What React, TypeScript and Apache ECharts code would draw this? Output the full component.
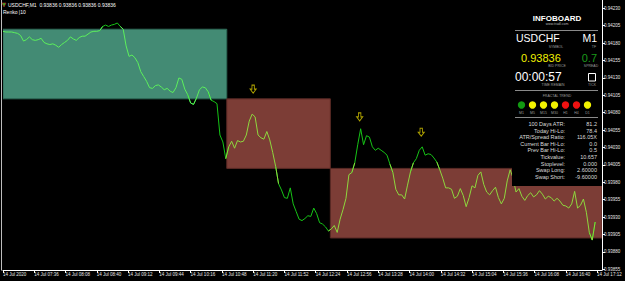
import React, { useEffect, useRef } from 'react';
import * as echarts from 'echarts';

// ---- data ----
const DAY_LABEL = '14 Jul';
const FIRST_LABEL = '14 Jul 2020';
const START_MIN = 7 * 60 + 4; // 07:04
const STEP_MIN = 3; // minutes between samples

const prices = [
  0.94197, 0.94196, 0.94196, 0.94196, 0.94195, 0.94194, 0.94191, 0.94183, 0.94185, 0.94189,
  0.94185, 0.94184, 0.94185, 0.94187, 0.94181, 0.94179, 0.94178, 0.94179, 0.94177, 0.94174,
  0.94178, 0.94181, 0.94184, 0.94189, 0.94186, 0.94184, 0.94188, 0.9419, 0.9419, 0.94193,
  0.94196, 0.94197, 0.94197, 0.94198, 0.94204, 0.94206, 0.94204, 0.94206, 0.94207, 0.94209,
  0.94204, 0.942, 0.94176, 0.94161, 0.94163, 0.94159, 0.94152, 0.94139, 0.94132, 0.94125,
  0.94116, 0.94115, 0.94119, 0.9412, 0.94117, 0.94113, 0.94115, 0.94111, 0.94109, 0.94116,
  0.9413, 0.94128, 0.94114, 0.94106, 0.94094, 0.94092, 0.94101, 0.94113, 0.94117, 0.94116,
  0.9411, 0.94098, 0.94096, 0.94093, 0.94048, 0.94038, 0.94014, 0.94031, 0.94039, 0.94029,
  0.9404, 0.94038, 0.94039, 0.94048, 0.94068, 0.94078, 0.94074, 0.94048, 0.94044, 0.94042,
  0.94053, 0.94041, 0.94023, 0.94003, 0.93978, 0.93969, 0.93958, 0.93957, 0.93972, 0.93949,
  0.93938, 0.93927, 0.93925, 0.93928, 0.93932, 0.93931, 0.93943, 0.93935, 0.93922, 0.9392,
  0.93916, 0.9391, 0.93913, 0.93918, 0.93908, 0.93927, 0.93941, 0.93957, 0.93991, 0.93994,
  0.94008, 0.94034, 0.94057, 0.94034, 0.94047, 0.94045, 0.94031, 0.94026, 0.94029, 0.94026,
  0.94023, 0.94019, 0.94006, 0.93994, 0.9397, 0.93962, 0.93962, 0.93956, 0.93976, 0.93995,
  0.94008, 0.94014, 0.94026, 0.94031, 0.94019, 0.94021, 0.9402, 0.94015, 0.94009, 0.93998,
  0.93986, 0.93972, 0.93972, 0.9397, 0.93957, 0.9396, 0.93971, 0.93961, 0.93945, 0.93958,
  0.93975, 0.93972, 0.9399, 0.93995, 0.93977, 0.93966, 0.93962, 0.93968, 0.93973, 0.93958,
  0.93949, 0.93957, 0.93982, 0.93998, 0.93986, 0.93966, 0.93971, 0.9396, 0.93954, 0.93961,
  0.93965, 0.93959, 0.93962, 0.93968, 0.93963, 0.93956, 0.9396, 0.93958, 0.93953, 0.93957,
  0.93953, 0.93947, 0.93946, 0.93943, 0.93949, 0.93967, 0.93943, 0.93947, 0.93956, 0.93937,
  0.93908, 0.93897, 0.93923,
];

// renko boxes (minutes from start)
const boxStart = [0, 229, 335];
const boxEnd = [229, 335, 613];
const boxLow = [0.941, 0.94, 0.939];
const boxHigh = [0.942, 0.941, 0.94];
const boxDir = ['up', 'down', 'down'];

// up-fractal arrows
const fractalTimes = [256, 365, 428];
const fractalPrices = [0.94114, 0.94074, 0.94052];

// axis ticks
const priceTicks = [
  0.93855, 0.9388, 0.93905, 0.9393, 0.93955, 0.9398, 0.94005, 0.9403, 0.94055, 0.9408,
  0.94105, 0.9413, 0.94155, 0.9418, 0.94205, 0.9423,
];
const timeTicks = [0, 32, 64, 96, 128, 160, 192, 224, 256, 288, 320, 352, 384, 416, 448, 480, 512, 544, 576, 608];

// header / infoboard texts
const symbolName = 'USDCHF';
const timeframe = 'M1';
const bidPrice = '0.93836';
const spread = '0.7';
const timeRemain = '00:00:57';
const trendFrames = ['M1', 'M5', 'M15', 'M30', 'H1', 'H4', 'D1'];
const trendStates = ['up', 'flat', 'flat', 'flat', 'down', 'down', 'flat'];
const infoLabels = ['100 Days ATR:', 'Today Hi-Lo:', 'ATR/Spread Ratio:', 'Current Bar Hi-Lo:', 'Prev Bar Hi-Lo:', 'Tickvalue:', 'Stoplevel:', 'Swap Long:', 'Swap Short:'];
const infoValues = ['81.2', '78.4', '116.05X', '0.0', '0.5', '10.657', '0.000', '2.60000', '-9.60000'];

const FONT = '"Liberation Sans", Arial, sans-serif';

function fmtTime(t: number) {
  if (t === 0) return FIRST_LABEL;
  const m = START_MIN + t;
  const hh = String(Math.floor(m / 60)).padStart(2, '0');
  const mm = String(m % 60).padStart(2, '0');
  return `${DAY_LABEL} ${hh}:${mm}`;
}

function txt(text: string, x: number, y: number, size: number, fill: string, align = 'left', weight = 'normal') {
  return {
    type: 'text', x, y, z: 102, silent: true,
    style: {
      text, fill, font: `${weight} ${size}px ${FONT}`,
      textAlign: align, align, textVerticalAlign: 'middle', verticalAlign: 'middle',
    },
  };
}

export default function App() {
  const ref = useRef<HTMLDivElement>(null);

  useEffect(() => {
    if (!ref.current) return;
    const chart = echarts.init(ref.current, null, { renderer: 'svg' });

    const times = prices.map((_, i) => i * STEP_MIN);
    const cat = prices.map((p, i) => {
      const t = times[i];
      for (let k = 0; k < boxStart.length; k++) {
        if (t >= boxStart[k] && t <= boxEnd[k] && p >= boxLow[k] && p <= boxHigh[k]) return boxDir[k];
      }
      return 'out';
    });
    const lineData = (c: string) =>
      prices.map((p, i) => (cat[i] === c || cat[i - 1] === c || cat[i + 1] === c ? [times[i], p] : [times[i], '-']));

    const trendColor: Record<string, string> = { up: '#129a12', flat: '#f2f200', down: '#ee1111' };

    const graphic: any[] = [
      // left frame line
      { type: 'line', z: 50, shape: { x1: 1.5, y1: 0, x2: 1.5, y2: 270.5 }, style: { stroke: '#bdbdbd', lineWidth: 1 } },
      // header
      { type: 'polygon', z: 102, shape: { points: [[2, 3], [6, 3], [4, 7]] }, style: { fill: '#22bb22', stroke: '#cc2222', lineWidth: 0.6 } },
      txt(`${symbolName},${timeframe}  ${bidPrice} ${bidPrice} ${bidPrice} ${bidPrice}`, 8, 5, 5, '#ffffff'),
      txt('Renko |10', 3, 12, 5, '#ffffff'),
      // infoboard panel
      { type: 'rect', z: 100, shape: { x: 512, y: 0, width: 90, height: 186 }, style: { fill: '#000000' } },
      txt('INFOBOARD', 557, 18, 8, '#ffffff', 'center', 'bold'),
      txt('www.tradl.com', 557, 24, 3.5, '#b0b0b0', 'center'),
      { type: 'line', z: 101, shape: { x1: 515, y1: 30.5, x2: 598, y2: 30.5 }, style: { stroke: '#8a8a8a', lineWidth: 1 } },
      txt(symbolName, 516, 38, 10.5, '#ffffff'),
      txt(timeframe, 597, 38, 10.5, '#ffffff', 'right'),
      txt('SYMBOL', 556, 46.5, 3.5, '#9a9a9a', 'center'),
      txt('TF', 594, 46.5, 3.5, '#9a9a9a', 'center'),
      txt(bidPrice, 521, 58, 11, '#f2f200'),
      txt(spread, 597, 58, 11, '#1a9a1a', 'right'),
      txt('BID PRICE', 557, 66, 3.5, '#9a9a9a', 'center'),
      txt('SPREAD', 591, 66, 3.5, '#9a9a9a', 'center'),
      txt(timeRemain, 515, 77, 12, '#ffffff'),
      { type: 'rect', z: 101, shape: { x: 588.5, y: 73.5, width: 7, height: 7.5 }, style: { fill: 'none', stroke: '#ffffff', lineWidth: 1 } },
      txt('TIME REMAIN', 553, 85, 3.5, '#9a9a9a', 'center'),
      txt('TICK', 592, 85, 3.5, '#9a9a9a', 'center'),
      { type: 'line', z: 101, shape: { x1: 515, y1: 90.5, x2: 598, y2: 90.5 }, style: { stroke: '#8a8a8a', lineWidth: 1 } },
      txt('FRACTAL TREND', 557, 96, 3.5, '#9a9a9a', 'center'),
      { type: 'line', z: 101, shape: { x1: 515, y1: 117.5, x2: 598, y2: 117.5 }, style: { stroke: '#8a8a8a', lineWidth: 1 } },
    ];
    trendFrames.forEach((f, k) => {
      const cx = 521.5 + 11 * k;
      graphic.push({ type: 'circle', z: 101, shape: { cx, cy: 105, r: 3.7 }, style: { fill: trendColor[trendStates[k]] } });
      graphic.push(txt(f, cx, 112.5, 3.5, '#9a9a9a', 'center'));
    });
    infoLabels.forEach((l, k) => {
      const y = 124 + 6.6 * k;
      graphic.push(txt(l, 565, y, 5.5, '#dcdcdc', 'right'));
      graphic.push(txt(infoValues[k], 597, y, 5.5, '#dcdcdc', 'right'));
    });

    chart.setOption({
      animation: false,
      backgroundColor: '#000000',
      grid: { left: 2, top: 0, width: 600, height: 270, show: false },
      xAxis: {
        type: 'value', min: 0, max: 613,
        axisLine: { show: true, onZero: false, lineStyle: { color: '#ffffff', width: 1 } },
        axisTick: { show: true, customValues: timeTicks, length: 3, lineStyle: { color: '#ffffff' } },
        axisLabel: {
          customValues: timeTicks, formatter: (v: number) => fmtTime(v), color: '#e6e6e6',
          fontSize: 4.5, fontFamily: FONT, align: 'left', margin: 2,
        },
        splitLine: { show: false },
      },
      yAxis: {
        type: 'value', position: 'right', min: 0.93854, max: 0.94242,
        axisLine: { show: true, onZero: false, lineStyle: { color: '#ffffff', width: 1 } },
        axisTick: { show: true, customValues: priceTicks, length: 3, lineStyle: { color: '#ffffff' } },
        axisLabel: {
          customValues: priceTicks, formatter: (v: number) => v.toFixed(5), color: '#e6e6e6',
          fontSize: 4.5, fontFamily: FONT, margin: 2,
        },
        splitLine: { show: false },
      },
      series: [
        {
          type: 'custom', z: 1, clip: true,
          data: boxStart.map((s, k) => [s, boxEnd[k], boxLow[k], boxHigh[k], boxDir[k] === 'up' ? 1 : 0]),
          encode: { x: [0, 1], y: [2, 3] },
          renderItem: (params: any, api: any) => {
            const p0 = api.coord([api.value(0), api.value(3)]);
            const p1 = api.coord([api.value(1), api.value(2)]);
            const up = api.value(4) === 1;
            return {
              type: 'rect',
              shape: { x: p0[0], y: p0[1], width: p1[0] - p0[0], height: p1[1] - p0[1] },
              style: { fill: up ? '#438b74' : '#7c3d36', stroke: up ? '#2e6a57' : '#5a2a25', lineWidth: 1 },
            };
          },
        },
        { type: 'line', z: 3, data: lineData('out'), showSymbol: false, symbol: 'none', lineStyle: { color: '#16c416', width: 1 }, connectNulls: false },
        { type: 'line', z: 4, data: lineData('up'), showSymbol: false, symbol: 'none', lineStyle: { color: '#5cf05c', width: 1 }, connectNulls: false },
        { type: 'line', z: 4, data: lineData('down'), showSymbol: false, symbol: 'none', lineStyle: { color: '#8ed83e', width: 1 }, connectNulls: false },
        {
          type: 'scatter', z: 5,
          data: fractalTimes.map((t, k) => [t, fractalPrices[k]]),
          symbol: 'path://M3,0 L7,0 L7,5 L10,5 L5,10 L0,5 L3,5 Z',
          symbolSize: [6, 8],
          itemStyle: { color: 'rgba(0,0,0,0)', borderColor: '#d8c800', borderWidth: 1 },
        },
      ],
      graphic,
    });

    return () => chart.dispose();
  }, []);

  return (
    <div
      ref={ref}
      style={{ position: 'fixed', left: 0, top: 0, width: 625, height: 281, background: '#000' }}
    />
  );
}
